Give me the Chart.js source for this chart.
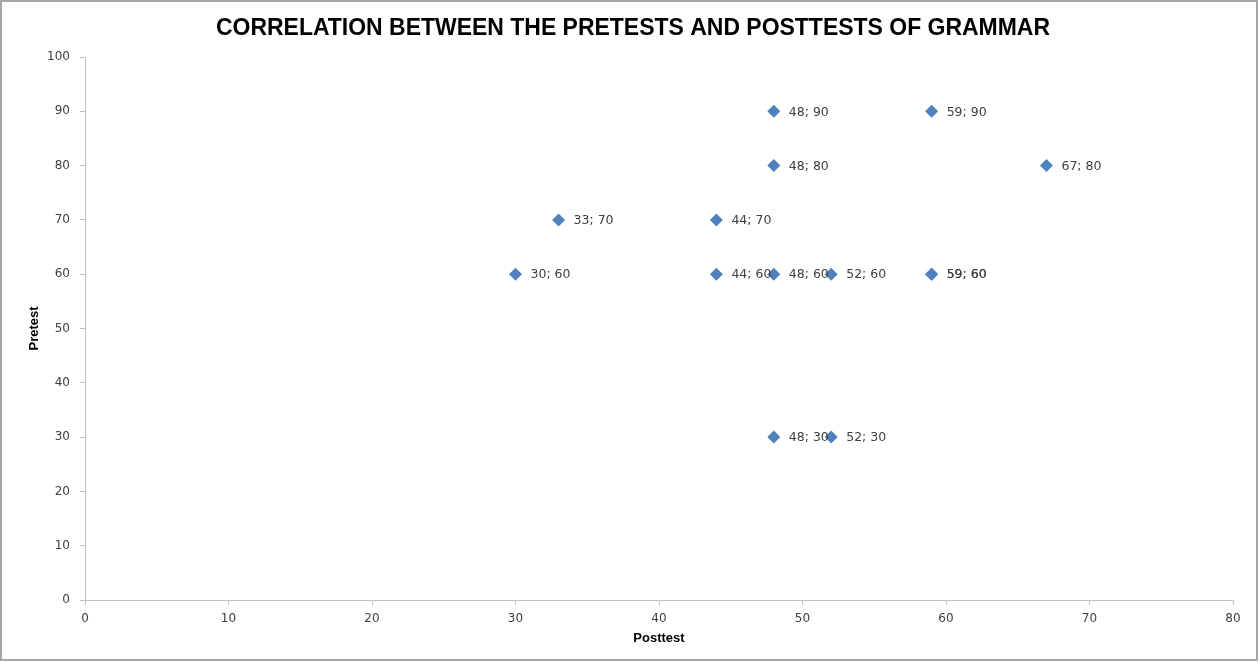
<!DOCTYPE html>
<html>
<head>
<meta charset="utf-8">
<script src="https://cdn.jsdelivr.net/npm/chart.js@4/dist/chart.umd.min.js"></script>
<style>
  html, body { margin: 0; padding: 0; background: #ffffff; }
  #wrap { width: 1259px; height: 662px; position: relative; }
</style>
</head>
<body>
<div id="wrap"><canvas id="c" width="1259" height="662"></canvas></div>
<script>
// Scores per student: posttest (x) against pretest (y)
const posttest = [48, 59, 48, 67, 33, 44, 30, 44, 48, 52, 59, 59, 48, 52];
const pretest  = [90, 90, 80, 80, 70, 70, 60, 60, 60, 60, 60, 60, 30, 30];
const xTicks = [0, 10, 20, 30, 40, 50, 60, 70, 80];
const yTicks = [0, 10, 20, 30, 40, 50, 60, 70, 80, 90, 100];

const chartTitle = 'CORRELATION BETWEEN THE PRETESTS AND POSTTESTS OF GRAMMAR';
const xTitle = 'Posttest';
const yTitle = 'Pretest';

const points = posttest.map((x, i) => ({ x: x, y: pretest[i] }));

const axisGrey = '#bfbfbf';
const textGrey = '#404040';
const tickFont = { family: 'DejaVu Sans', size: 12 };

// Chart frame, condensed title and "x; y" point labels
const decorations = {
  id: 'decorations',
  beforeDraw(chart) {
    const ctx = chart.ctx;
    ctx.save();
    ctx.fillStyle = '#ffffff';
    ctx.fillRect(0, 0, chart.width, chart.height);
    ctx.restore();
  },
  afterDraw(chart) {
    const ctx = chart.ctx;
    ctx.save();
    ctx.strokeStyle = '#a6a6a6';
    ctx.lineWidth = 2;
    ctx.strokeRect(1, 1, chart.width - 3, chart.height - 3);

    ctx.fillStyle = '#000000';
    ctx.font = 'bold 24px "Liberation Sans Narrow", "Liberation Sans", sans-serif';
    ctx.textAlign = 'center';
    ctx.textBaseline = 'middle';
    const tw = ctx.measureText(chartTitle).width;
    const target = 834;
    ctx.translate(633, 28);
    ctx.scale(target / tw, 1);
    ctx.fillText(chartTitle, 0, 0);
    ctx.restore();

    ctx.save();
    ctx.font = '12.5px "DejaVu Sans", sans-serif';
    ctx.fillStyle = textGrey;
    ctx.textAlign = 'left';
    ctx.textBaseline = 'middle';
    const meta = chart.getDatasetMeta(0);
    meta.data.forEach((el, i) => {
      const p = chart.data.datasets[0].data[i];
      ctx.fillText(p.x + '; ' + p.y, el.x + 15, el.y + 1);
    });
    ctx.restore();
  }
};

new Chart(document.getElementById('c'), {
  type: 'scatter',
  data: {
    datasets: [{
      data: points,
      pointStyle: 'rectRot',
      pointRadius: 6.5,
      pointHoverRadius: 6.5,
      backgroundColor: '#4F81BD',
      borderColor: '#4F81BD',
      borderWidth: 0
    }]
  },
  plugins: [decorations],
  options: {
    responsive: false,
    animation: false,
    devicePixelRatio: 1,
    layout: { padding: { top: 57, right: 26, left: 0, bottom: 0 } },
    plugins: {
      legend: { display: false },
      tooltip: { enabled: false },
      title: { display: false }
    },
    scales: {
      x: {
        type: 'linear',
        min: 0, max: 80,
        afterBuildTicks(scale) { scale.ticks = xTicks.map(v => ({ value: v })); },
        afterFit(scale) { scale.height = 62; },
        grid: { drawOnChartArea: false, drawTicks: true, tickLength: 5, color: axisGrey },
        border: { color: axisGrey, width: 1 },
        ticks: { color: textGrey, font: tickFont, padding: 7, maxRotation: 0 },
        title: {
          display: true, text: xTitle, color: '#000000',
          font: { family: 'Liberation Sans', size: 13, weight: 'bold' },
          padding: { top: 0, bottom: 16 }
        }
      },
      y: {
        type: 'linear',
        min: 0, max: 100,
        afterBuildTicks(scale) { scale.ticks = yTicks.map(v => ({ value: v })); },
        afterFit(scale) { scale.width = 85; },
        grid: { drawOnChartArea: false, drawTicks: true, tickLength: 5, color: axisGrey },
        border: { color: axisGrey, width: 1 },
        ticks: { color: textGrey, font: tickFont, padding: 10 },
        title: {
          display: true, text: yTitle, color: '#000000',
          font: { family: 'Liberation Sans', size: 13, weight: 'bold' },
          padding: { top: 27, bottom: 0 }
        }
      }
    }
  }
});
</script>
</body>
</html>
